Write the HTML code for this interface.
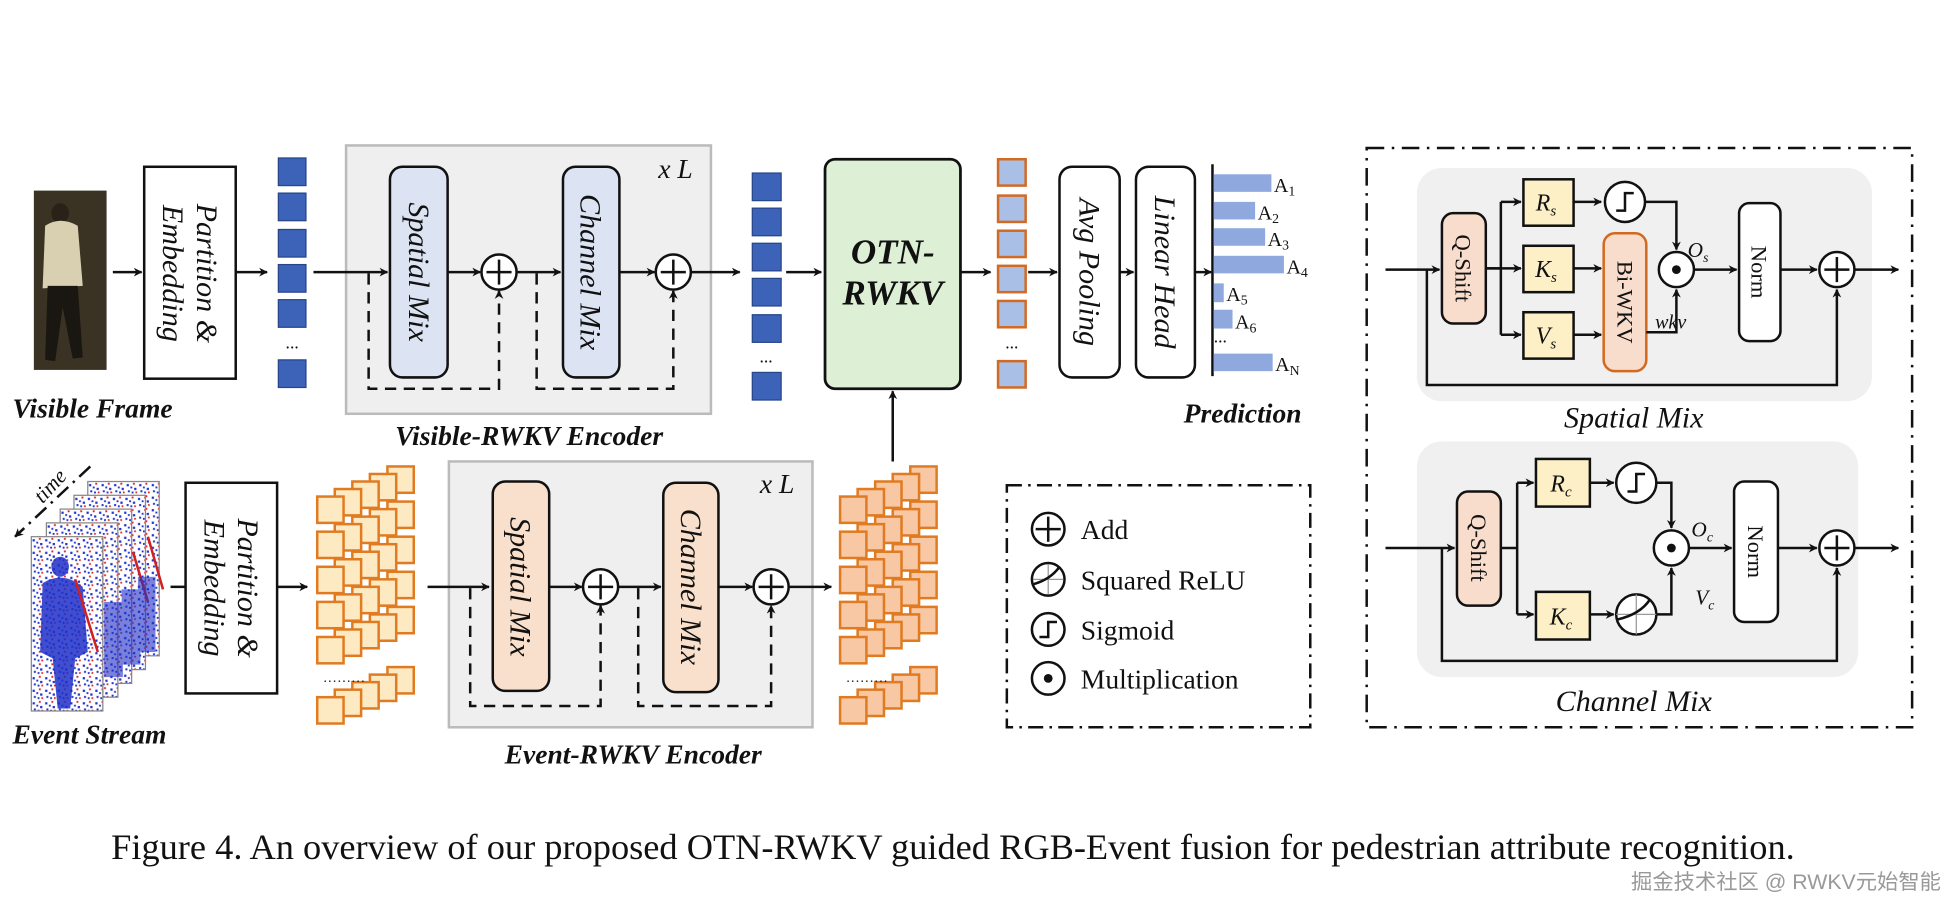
<!DOCTYPE html>
<html><head><meta charset="utf-8"><style>
html,body{margin:0;padding:0;background:#fff;}
svg{display:block;}
text{font-family:"Liberation Serif",serif;fill:#111;}
.it{font-style:italic;}
.bi{font-style:italic;font-weight:bold;}
</style></head><body>
<svg width="1956" height="916" viewBox="0 0 1560 730.5" preserveAspectRatio="none" xmlns="http://www.w3.org/2000/svg">
<defs>
<marker id="ah" viewBox="0 0 10 10" refX="9" refY="5" markerWidth="7" markerHeight="7" orient="auto" markerUnits="userSpaceOnUse"><path d="M0,0 L10,5 L0,10 L3,5 z" fill="#111"/></marker>
<pattern id="noise" width="10" height="10" patternUnits="userSpaceOnUse">
<rect width="10" height="10" fill="#fff"/>
<rect x="1" y="2" width="1.8" height="1.8" fill="#2233cc"/><rect x="6" y="1" width="1.5" height="1.5" fill="#dd2222"/>
<rect x="7" y="5" width="1.8" height="1.8" fill="#2233cc"/><rect x="2" y="7" width="1.6" height="1.6" fill="#2233cc"/>
<rect x="8" y="8" width="1.4" height="1.4" fill="#dd2222"/><rect x="4" y="4" width="1.5" height="1.5" fill="#2233cc"/>
<rect x="5" y="8" width="1.5" height="1.5" fill="#2233cc"/>
</pattern>
<g id="tcol">
<rect x="0" y="0" width="21" height="21"/><rect x="0" y="28" width="21" height="21"/><rect x="0" y="56" width="21" height="21"/><rect x="0" y="84" width="21" height="21"/><rect x="0" y="112" width="21" height="21"/><rect x="0" y="160" width="21" height="21"/>
</g>
<g id="frame">
<rect x="0" y="0" width="57" height="139" fill="url(#noise)" stroke="#888" stroke-width="1"/>
</g>
</defs>

<!-- ===== Visible frame ===== -->
<rect x="27" y="152" width="58" height="143" fill="#3a3223"/>
<ellipse cx="48" cy="170" rx="7" ry="8" fill="#2a2218"/>
<path d="M36,180 Q48,172 62,180 L66,228 L34,230 z" fill="#d8d0b0"/>
<path d="M38,228 L62,228 L66,285 L58,286 L50,245 L44,288 L36,287 z" fill="#1a1612"/>
<text class="bi" x="10" y="333" font-size="22">Visible Frame</text>
<line x1="90" y1="217" x2="113" y2="217" stroke="#111" stroke-width="2" marker-end="url(#ah)"/>
<rect x="115" y="133" width="73" height="169" fill="#fff" stroke="#111" stroke-width="2"/>
<text class="it" font-size="24" text-anchor="middle" transform="translate(151,218) rotate(90)"><tspan x="0" dy="-6">Partition &amp;</tspan><tspan x="0" dy="27">Embedding</tspan></text>
<line x1="188" y1="217" x2="213" y2="217" stroke="#111" stroke-width="2" marker-end="url(#ah)"/>
<g fill="#3c63b8" stroke="#27468a" stroke-width="1">
<rect x="222" y="126" width="22" height="22"/><rect x="222" y="154" width="22" height="22"/><rect x="222" y="183" width="22" height="22"/><rect x="222" y="211" width="22" height="22"/><rect x="222" y="239" width="22" height="22"/><rect x="222" y="287" width="22" height="22"/>
</g>
<text x="233" y="278" font-size="14" text-anchor="middle">...</text>

<!-- Visible encoder -->
<rect x="276" y="116" width="291" height="214" fill="#efefef" stroke="#bbb" stroke-width="2"/>
<text class="it" x="525" y="142" font-size="22">x L</text>
<line x1="250" y1="217" x2="309" y2="217" stroke="#111" stroke-width="2" marker-end="url(#ah)"/>
<rect x="311" y="133" width="46" height="168" rx="10" fill="#dce3f3" stroke="#111" stroke-width="2"/>
<text class="it" font-size="24" text-anchor="middle" transform="translate(334,217) rotate(90)" dy="8">Spatial Mix</text>
<line x1="357" y1="217" x2="383" y2="217" stroke="#111" stroke-width="2" marker-end="url(#ah)"/>
<circle cx="398" cy="217" r="14" fill="#fff" stroke="#111" stroke-width="2"/><path d="M388,217 H408 M398,207 V227" stroke="#111" stroke-width="2"/>
<line x1="412" y1="217" x2="447" y2="217" stroke="#111" stroke-width="2" marker-end="url(#ah)"/>
<rect x="449" y="133" width="45" height="168" rx="10" fill="#dce3f3" stroke="#111" stroke-width="2"/>
<text class="it" font-size="24" text-anchor="middle" transform="translate(471,217) rotate(90)" dy="8">Channel Mix</text>
<line x1="494" y1="217" x2="522" y2="217" stroke="#111" stroke-width="2" marker-end="url(#ah)"/>
<circle cx="537" cy="217" r="14" fill="#fff" stroke="#111" stroke-width="2"/><path d="M527,217 H547 M537,207 V227" stroke="#111" stroke-width="2"/>
<line x1="551" y1="217" x2="590" y2="217" stroke="#111" stroke-width="2" marker-end="url(#ah)"/>
<path d="M294,218 V310 H398 V232" fill="none" stroke="#111" stroke-width="2" stroke-dasharray="9,6" marker-end="url(#ah)"/>
<path d="M428,218 V310 H537 V232" fill="none" stroke="#111" stroke-width="2" stroke-dasharray="9,6" marker-end="url(#ah)"/>
<text class="bi" x="422" y="355" font-size="22" text-anchor="middle">Visible-RWKV Encoder</text>

<g fill="#3c63b8" stroke="#27468a" stroke-width="1">
<rect x="600" y="138" width="23" height="22"/><rect x="600" y="166" width="23" height="22"/><rect x="600" y="194" width="23" height="22"/><rect x="600" y="222" width="23" height="22"/><rect x="600" y="251" width="23" height="22"/><rect x="600" y="297" width="23" height="22"/>
</g>
<text x="611" y="289" font-size="14" text-anchor="middle">...</text>
<line x1="627" y1="217" x2="655" y2="217" stroke="#111" stroke-width="2" marker-end="url(#ah)"/>
<rect x="658" y="127" width="108" height="183" rx="8" fill="#ddf0d6" stroke="#111" stroke-width="2.2"/>
<text class="bi" x="712" y="210" font-size="28" text-anchor="middle">OTN-</text>
<text class="bi" x="712" y="243" font-size="28" text-anchor="middle">RWKV</text>
<line x1="712" y1="368" x2="712" y2="312" stroke="#111" stroke-width="2" marker-end="url(#ah)"/>
<line x1="766" y1="217" x2="790" y2="217" stroke="#111" stroke-width="2" marker-end="url(#ah)"/>
<g fill="#a9bfe6" stroke="#d26a24" stroke-width="2">
<rect x="796" y="127" width="22" height="21"/><rect x="796" y="156" width="22" height="21"/><rect x="796" y="184" width="22" height="21"/><rect x="796" y="212" width="22" height="21"/><rect x="796" y="240" width="22" height="21"/><rect x="796" y="288" width="22" height="21"/>
</g>
<text x="807" y="278" font-size="14" text-anchor="middle">...</text>
<line x1="820" y1="217" x2="843" y2="217" stroke="#111" stroke-width="2" marker-end="url(#ah)"/>
<rect x="845" y="133" width="48" height="168" rx="10" fill="#fff" stroke="#111" stroke-width="2"/>
<text class="it" font-size="24" text-anchor="middle" transform="translate(869,217) rotate(90)" dy="8">Avg Pooling</text>
<line x1="893" y1="217" x2="904" y2="217" stroke="#111" stroke-width="2" marker-end="url(#ah)"/>
<rect x="906" y="133" width="47" height="168" rx="10" fill="#fff" stroke="#111" stroke-width="2"/>
<text class="it" font-size="24" text-anchor="middle" transform="translate(929,217) rotate(90)" dy="8">Linear Head</text>
<line x1="953" y1="217" x2="966" y2="217" stroke="#111" stroke-width="2" marker-end="url(#ah)"/>
<line x1="967" y1="131" x2="967" y2="300" stroke="#111" stroke-width="2"/>
<g fill="#8fa9de">
<rect x="968" y="139" width="46" height="14"/><rect x="968" y="161" width="33" height="14"/><rect x="968" y="182" width="41" height="14"/><rect x="968" y="204" width="56" height="14"/><rect x="968" y="226" width="8" height="15"/><rect x="968" y="247" width="15" height="15"/><rect x="968" y="282" width="47" height="14"/>
</g>
<g font-size="16">
<text x="1016" y="153">A<tspan font-size="11" dy="3">1</tspan></text>
<text x="1003" y="175">A<tspan font-size="11" dy="3">2</tspan></text>
<text x="1011" y="196">A<tspan font-size="11" dy="3">3</tspan></text>
<text x="1026" y="218">A<tspan font-size="11" dy="3">4</tspan></text>
<text x="978" y="240">A<tspan font-size="11" dy="3">5</tspan></text>
<text x="985" y="262">A<tspan font-size="11" dy="3">6</tspan></text>
<text x="968" y="273" font-size="14">...</text>
<text x="1017" y="296">A<tspan font-size="11" dy="3">N</tspan></text>
</g>
<text class="bi" x="944" y="337" font-size="22">Prediction</text>

<!-- ===== Event stream ===== -->
<use href="#frame" x="70" y="384"/>
<use href="#frame" x="59" y="395"/>
<use href="#frame" x="48" y="406"/>
<use href="#frame" x="37" y="417"/>
<use href="#frame" x="25" y="428"/>
<g fill="#1f2fc8" opacity="0.85">
<ellipse cx="48" cy="452" rx="7" ry="8"/>
<path d="M34,465 Q50,455 66,468 L70,520 L60,525 L56,565 L46,565 L42,525 L32,520 z"/>
</g>
<g fill="none" stroke="#d02020" stroke-width="2"><path d="M60,462 L78,520"/><path d="M106,440 L118,480"/><path d="M118,428 L130,470"/></g>
<g fill="#1f2fc8" opacity="0.6"><rect x="83" y="480" width="15" height="60"/><rect x="97" y="470" width="15" height="60"/><rect x="110" y="460" width="14" height="60"/></g>
<line x1="72" y1="372" x2="12" y2="428" stroke="#111" stroke-width="2" stroke-dasharray="12,5,2,5" marker-end="url(#ah)"/>
<text class="it" font-size="17" transform="translate(34,402) rotate(-47)">time</text>
<text class="bi" x="10" y="593" font-size="22">Event Stream</text>
<line x1="136" y1="468" x2="148" y2="468" stroke="#111" stroke-width="2"/>
<rect x="148" y="385" width="73" height="168" fill="#fff" stroke="#111" stroke-width="2"/>
<text class="it" font-size="24" text-anchor="middle" transform="translate(184,469) rotate(90)"><tspan x="0" dy="-6">Partition &amp;</tspan><tspan x="0" dy="27">Embedding</tspan></text>
<line x1="221" y1="468" x2="245" y2="468" stroke="#111" stroke-width="2" marker-end="url(#ah)"/>
<g fill="#fdeac3" stroke="#e07b22" stroke-width="2">
<use href="#tcol" x="309" y="372"/><use href="#tcol" x="295" y="378"/><use href="#tcol" x="281" y="384"/><use href="#tcol" x="267" y="390"/><use href="#tcol" x="253" y="396"/>
</g>
<text x="258" y="544" font-size="11" letter-spacing="1">.........</text>

<!-- Event encoder -->
<rect x="358" y="368" width="290" height="212" fill="#efefef" stroke="#bbb" stroke-width="2"/>
<text class="it" x="606" y="393" font-size="22">x L</text>
<line x1="341" y1="468" x2="390" y2="468" stroke="#111" stroke-width="2" marker-end="url(#ah)"/>
<rect x="393" y="384" width="45" height="167" rx="10" fill="#f9e0cc" stroke="#111" stroke-width="2"/>
<text class="it" font-size="24" text-anchor="middle" transform="translate(415,468) rotate(90)" dy="8">Spatial Mix</text>
<line x1="438" y1="468" x2="464" y2="468" stroke="#111" stroke-width="2" marker-end="url(#ah)"/>
<circle cx="479" cy="468" r="14" fill="#fff" stroke="#111" stroke-width="2"/><path d="M469,468 H489 M479,458 V478" stroke="#111" stroke-width="2"/>
<line x1="493" y1="468" x2="527" y2="468" stroke="#111" stroke-width="2" marker-end="url(#ah)"/>
<rect x="529" y="385" width="44" height="167" rx="10" fill="#f9e0cc" stroke="#111" stroke-width="2"/>
<text class="it" font-size="24" text-anchor="middle" transform="translate(551,468) rotate(90)" dy="8">Channel Mix</text>
<line x1="573" y1="468" x2="600" y2="468" stroke="#111" stroke-width="2" marker-end="url(#ah)"/>
<circle cx="615" cy="468" r="14" fill="#fff" stroke="#111" stroke-width="2"/><path d="M605,468 H625 M615,458 V478" stroke="#111" stroke-width="2"/>
<line x1="629" y1="468" x2="663" y2="468" stroke="#111" stroke-width="2" marker-end="url(#ah)"/>
<path d="M375,469 V563 H479 V483" fill="none" stroke="#111" stroke-width="2" stroke-dasharray="9,6" marker-end="url(#ah)"/>
<path d="M509,469 V563 H615 V483" fill="none" stroke="#111" stroke-width="2" stroke-dasharray="9,6" marker-end="url(#ah)"/>
<text class="bi" x="505" y="609" font-size="22" text-anchor="middle">Event-RWKV Encoder</text>
<g fill="#f8c7a4" stroke="#e07b22" stroke-width="2">
<use href="#tcol" x="726" y="372"/><use href="#tcol" x="712" y="378"/><use href="#tcol" x="698" y="384"/><use href="#tcol" x="684" y="390"/><use href="#tcol" x="670" y="396"/>
</g>
<text x="675" y="544" font-size="11" letter-spacing="1">.........</text>

<!-- Legend -->
<rect x="803" y="387" width="242" height="193" fill="none" stroke="#111" stroke-width="2" stroke-dasharray="12,5,2,5"/>
<g stroke="#111" stroke-width="2" fill="#fff">
<circle cx="836" cy="422" r="13"/><circle cx="836" cy="462" r="13"/><circle cx="836" cy="502" r="13"/><circle cx="836" cy="541" r="13"/>
</g>
<path d="M826,422 H846 M836,412 V432" stroke="#111" stroke-width="2"/>
<path d="M836,450 V474 M824,462 H848" stroke="#999" stroke-width="1"/>
<path d="M824,466 Q838,462 845,452" stroke="#111" stroke-width="2" fill="none"/>
<path d="M829,508 H836 V496 H843" stroke="#111" stroke-width="2" fill="none"/>
<circle cx="836" cy="541" r="3.5" fill="#111"/>
<g font-size="22"><text x="862" y="430">Add</text><text x="862" y="470">Squared ReLU</text><text x="862" y="510">Sigmoid</text><text x="862" y="549">Multiplication</text></g>

<!-- ===== Right panel ===== -->
<rect x="1090" y="118" width="435" height="462" fill="none" stroke="#111" stroke-width="2" stroke-dasharray="14,6,2,6"/>
<rect x="1130" y="134" width="363" height="186" rx="20" fill="#f0f0f0"/>
<line x1="1105" y1="215" x2="1148" y2="215" stroke="#111" stroke-width="2" marker-end="url(#ah)"/>
<rect x="1150" y="170" width="35" height="88" rx="9" fill="#f8dccc" stroke="#111" stroke-width="2"/>
<text font-size="18" text-anchor="middle" transform="translate(1167,214) rotate(90)" dy="6">Q-Shift</text>
<path d="M1185,214 H1197 M1197,161 V267" stroke="#111" stroke-width="2" fill="none"/>
<line x1="1197" y1="161" x2="1213" y2="161" stroke="#111" stroke-width="2" marker-end="url(#ah)"/>
<line x1="1185" y1="214" x2="1213" y2="214" stroke="#111" stroke-width="2" marker-end="url(#ah)"/>
<line x1="1197" y1="267" x2="1213" y2="267" stroke="#111" stroke-width="2" marker-end="url(#ah)"/>
<g fill="#fdf0c6" stroke="#111" stroke-width="2">
<rect x="1215" y="143" width="40" height="37"/><rect x="1215" y="196" width="40" height="37"/><rect x="1215" y="249" width="40" height="37"/>
</g>
<g class="it" font-size="19" text-anchor="middle">
<text x="1233" y="168" class="it">R<tspan font-size="12" dy="4">s</tspan></text>
<text x="1233" y="221" class="it">K<tspan font-size="12" dy="4">s</tspan></text>
<text x="1233" y="274" class="it">V<tspan font-size="12" dy="4">s</tspan></text>
</g>
<line x1="1255" y1="161" x2="1277" y2="161" stroke="#111" stroke-width="2" marker-end="url(#ah)"/>
<circle cx="1296" cy="161" r="16" fill="#fff" stroke="#111" stroke-width="2"/>
<path d="M1289,168 H1296 V154 H1303" stroke="#111" stroke-width="2" fill="none"/>
<line x1="1255" y1="214" x2="1277" y2="214" stroke="#111" stroke-width="2" marker-end="url(#ah)"/>
<line x1="1255" y1="267" x2="1277" y2="267" stroke="#111" stroke-width="2" marker-end="url(#ah)"/>
<rect x="1279" y="186" width="34" height="110" rx="9" fill="#f8dccc" stroke="#d2691e" stroke-width="2"/>
<text font-size="18" text-anchor="middle" transform="translate(1296,241) rotate(90)" dy="6">Bi-WKV</text>
<path d="M1312,161 H1337 V199" stroke="#111" stroke-width="2" fill="none" marker-end="url(#ah)"/>
<path d="M1313,265 H1337 V231" stroke="#111" stroke-width="2" fill="none" marker-end="url(#ah)"/>
<circle cx="1337" cy="215" r="14" fill="#fff" stroke="#111" stroke-width="2"/><circle cx="1337" cy="215" r="3.5" fill="#111"/>
<text class="it" x="1346" y="205" font-size="17">O<tspan font-size="11" dy="4">s</tspan></text>
<text class="it" x="1320" y="262" font-size="16">wkv</text>
<line x1="1351" y1="215" x2="1385" y2="215" stroke="#111" stroke-width="2" marker-end="url(#ah)"/>
<rect x="1387" y="162" width="33" height="110" rx="8" fill="#fff" stroke="#111" stroke-width="2"/>
<text font-size="18" text-anchor="middle" transform="translate(1403,217) rotate(90)" dy="6">Norm</text>
<line x1="1420" y1="215" x2="1449" y2="215" stroke="#111" stroke-width="2" marker-end="url(#ah)"/>
<circle cx="1465" cy="215" r="14" fill="#fff" stroke="#111" stroke-width="2"/><path d="M1455,215 H1475 M1465,205 V225" stroke="#111" stroke-width="2"/>
<line x1="1479" y1="215" x2="1514" y2="215" stroke="#111" stroke-width="2" marker-end="url(#ah)"/>
<path d="M1138,215 V307 H1465 V231" stroke="#111" stroke-width="2" fill="none" marker-end="url(#ah)"/>
<text class="it" x="1303" y="341" font-size="24" text-anchor="middle">Spatial Mix</text>

<rect x="1130" y="352" width="352" height="188" rx="20" fill="#f0f0f0"/>
<line x1="1105" y1="437" x2="1160" y2="437" stroke="#111" stroke-width="2" marker-end="url(#ah)"/>
<rect x="1162" y="392" width="35" height="91" rx="9" fill="#f8dccc" stroke="#111" stroke-width="2"/>
<text font-size="18" text-anchor="middle" transform="translate(1179,437) rotate(90)" dy="6">Q-Shift</text>
<path d="M1197,437 H1210 M1210,385 V490" stroke="#111" stroke-width="2" fill="none"/>
<line x1="1210" y1="385" x2="1223" y2="385" stroke="#111" stroke-width="2" marker-end="url(#ah)"/>
<line x1="1210" y1="490" x2="1223" y2="490" stroke="#111" stroke-width="2" marker-end="url(#ah)"/>
<g fill="#fdf0c6" stroke="#111" stroke-width="2"><rect x="1225" y="366" width="43" height="38"/><rect x="1225" y="472" width="43" height="38"/></g>
<text class="it" x="1245" y="392" font-size="19" text-anchor="middle">R<tspan font-size="12" dy="4">c</tspan></text>
<text class="it" x="1245" y="498" font-size="19" text-anchor="middle">K<tspan font-size="12" dy="4">c</tspan></text>
<line x1="1268" y1="385" x2="1287" y2="385" stroke="#111" stroke-width="2" marker-end="url(#ah)"/>
<circle cx="1305" cy="385" r="16" fill="#fff" stroke="#111" stroke-width="2"/>
<path d="M1298,392 H1305 V378 H1312" stroke="#111" stroke-width="2" fill="none"/>
<line x1="1268" y1="490" x2="1287" y2="490" stroke="#111" stroke-width="2" marker-end="url(#ah)"/>
<circle cx="1305" cy="490" r="16" fill="#fff" stroke="#111" stroke-width="2"/>
<path d="M1305,474 V506 M1289,490 H1321" stroke="#999" stroke-width="1"/>
<path d="M1290,494 Q1308,490 1316,478" stroke="#111" stroke-width="2" fill="none"/>
<path d="M1321,385 H1333 V421" stroke="#111" stroke-width="2" fill="none" marker-end="url(#ah)"/>
<path d="M1321,490 H1333 V453" stroke="#111" stroke-width="2" fill="none" marker-end="url(#ah)"/>
<circle cx="1333" cy="437" r="14" fill="#fff" stroke="#111" stroke-width="2"/><circle cx="1333" cy="437" r="3.5" fill="#111"/>
<text class="it" x="1349" y="428" font-size="17">O<tspan font-size="11" dy="4">c</tspan></text>
<text class="it" x="1352" y="482" font-size="17">V<tspan font-size="11" dy="4">c</tspan></text>
<line x1="1347" y1="437" x2="1381" y2="437" stroke="#111" stroke-width="2" marker-end="url(#ah)"/>
<rect x="1383" y="384" width="35" height="112" rx="8" fill="#fff" stroke="#111" stroke-width="2"/>
<text font-size="18" text-anchor="middle" transform="translate(1400,440) rotate(90)" dy="6">Norm</text>
<line x1="1418" y1="437" x2="1449" y2="437" stroke="#111" stroke-width="2" marker-end="url(#ah)"/>
<circle cx="1465" cy="437" r="14" fill="#fff" stroke="#111" stroke-width="2"/><path d="M1455,437 H1475 M1465,427 V447" stroke="#111" stroke-width="2"/>
<line x1="1479" y1="437" x2="1514" y2="437" stroke="#111" stroke-width="2" marker-end="url(#ah)"/>
<path d="M1150,437 V527 H1465 V453" stroke="#111" stroke-width="2" fill="none" marker-end="url(#ah)"/>
<text class="it" x="1303" y="567" font-size="24" text-anchor="middle">Channel Mix</text>

<!-- caption -->
<text x="760" y="685" font-size="29" text-anchor="middle">Figure 4. An overview of our proposed OTN-RWKV guided RGB-Event fusion for pedestrian attribute recognition.</text>
<text x="1548" y="709" font-size="17" text-anchor="end" style="font-family:'Liberation Sans','Noto Sans CJK SC',sans-serif;fill:#999">掘金技术社区 @ RWKV元始智能</text>
</svg>
</body></html>
